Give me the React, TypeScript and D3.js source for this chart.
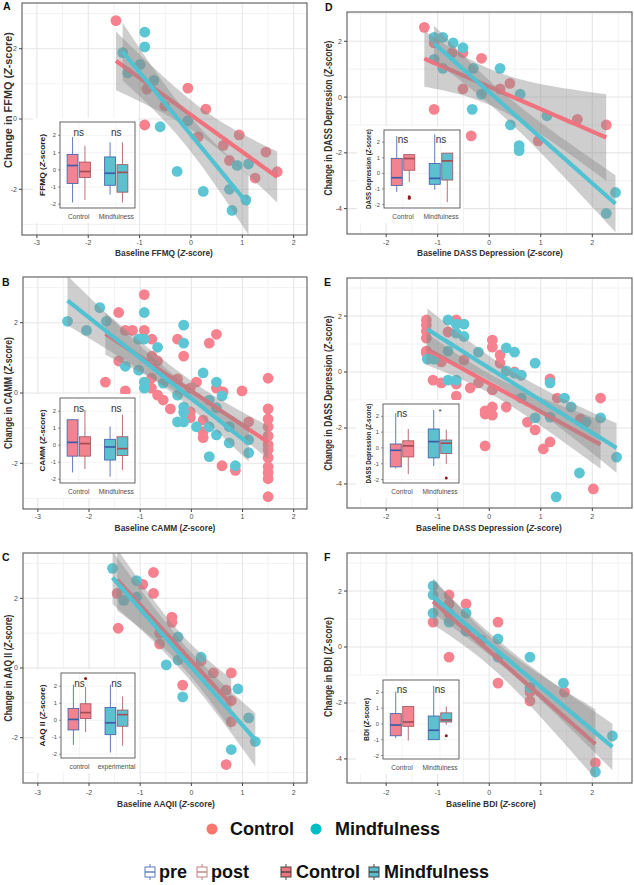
import React, { useEffect, useRef } from "react";
import * as d3 from "d3";

type Pt = [number, number];
type Box = [number, number, number, number, number]; // lo, q1, median, q3, hi

// tick labels
const leftXTicks = [-3, -2, -1, 0, 1, 2];
const rightXTicks = [-2, -1, 0, 1, 2];
const leftYTicks = [-2, 0, 2];
const rightYTicks = [-4, -2, 0, 2];
const insetYTicks = [-2, -1, 0, 1, 2];
const insetGroups = ["Control", "Mindfulness"];
const insetGroupsC = ["control", "experimental"];

// A: FFMQ
const aControl: Pt[] = [[-1.46, 2.8], [-0.9, -0.17], [-0.86, 0.85], [-0.06, 0.88], [0.29, 0.28], [-0.51, 0.37], [0.14, -0.51], [0.63, -0.75], [0.94, -0.45], [0.75, -1.18], [1.25, -1.68], [1.46, -0.94], [1.68, -1.5]];
const aMind: Pt[] = [[-0.9, 2.47], [-0.9, 2.05], [-1.33, 1.89], [-1.23, 1.31], [-0.99, 1.55], [-0.72, 1.1], [-0.6, -0.22], [-0.27, -1.49], [-0.06, -0.05], [0.24, -2.06], [0.75, -2.0], [0.9, -1.32], [1.12, -1.28], [0.8, -2.6], [1.07, -2.3]];
const aBoxes: Box[] = [[-1.9, -0.8, 0.25, 0.9, 1.9], [-1.75, -0.45, -0.1, 0.45, 1.4], [-1.45, -0.9, -0.2, 0.75, 1.6], [-1.9, -1.3, -0.15, 0.3, 1.6]];
const aOutliers: Pt[] = [];
const aSig = ["ns", "ns"];

// B: CAMM
const bControl: Pt[] = [[-1.42, 2.29], [-0.92, 2.8], [-1.29, 1.78], [-1.15, 1.78], [-0.92, 1.78], [-0.77, 1.53], [-0.27, 1.53], [0.35, 1.42], [0.49, 1.67], [-0.15, 1.05], [-1.42, 0.91], [-0.77, 1.05], [-0.66, 0.91], [-1.68, 0.31], [-1.29, 0.06], [-0.78, 0.42], [-0.78, 0.14], [-0.66, -0.06], [-0.55, -0.2], [-0.41, -0.45], [-0.27, 0.4], [0.1, 0.31], [-0.02, 0.14], [-0.02, -0.54], [-0.02, -0.7], [0.23, -0.77], [0.23, -1.1], [0.49, 0.14], [0.62, 0.03], [0.99, 0.06], [1.12, -0.82], [1.5, 0.42], [1.5, -0.45], [1.5, -0.74], [1.5, -0.96], [1.5, -1.22], [1.5, -1.47], [1.5, -1.61], [1.5, -1.84], [1.5, -2.1], [1.5, -2.27], [1.5, -2.44], [1.5, -2.95], [0.6, -2.07], [0.86, -2.2], [0.23, -1.27]];
const bMind: Pt[] = [[-2.42, 2.04], [-2.05, 1.78], [-1.79, 2.43], [-1.66, 2.04], [-1.29, 0.76], [-1.03, 0.65], [-1.03, 1.53], [-0.92, 1.53], [-0.92, 2.29], [-0.66, 1.3], [-0.92, 0.31], [-0.92, 0.14], [-0.55, 0.28], [-0.15, 1.93], [-0.15, 1.42], [-0.27, -0.06], [-0.15, -0.4], [-0.15, -0.55], [0.23, 0.57], [0.49, 0.31], [0.6, -0.08], [0.35, -0.2], [0.49, -0.42], [-0.27, -0.82], [-0.15, -0.82], [0.1, -0.96], [0.35, -0.96], [0.49, -1.19], [0.74, -0.96], [0.74, -1.42], [1.12, -1.33], [0.35, -1.81], [0.86, -2.07], [1.12, -1.7]];
const bBoxes: Box[] = [[-1.6, -0.64, 0.17, 1.5, 1.5], [-1.4, -0.64, 0.1, 0.5, 2.1], [-1.85, -0.87, -0.1, 0.35, 1.1], [-1.45, -0.6, -0.2, 0.5, 1.8]];
const bOutliers: Pt[] = [];
const bSig = ["ns", "ns"];

// C: AAQ II
const cControl: Pt[] = [[-0.74, 2.74], [-0.95, 2.4], [-0.74, 2.14], [-1.45, 2.14], [-1.43, 1.14], [-0.38, 1.46], [-0.38, 1.31], [-0.62, 0.69], [-0.62, 1.0], [0.19, 0.2], [-0.17, -0.49], [0.43, -0.14], [0.68, -0.63], [0.78, -0.14], [0.78, -0.94], [0.78, -1.54], [0.68, -2.77]];
const cMind: Pt[] = [[-1.54, 2.86], [-1.07, 2.51], [-1.32, 1.94], [-1.07, 2.03], [-0.49, 0.09], [-0.26, 0.89], [-0.26, 0.23], [-0.17, -0.83], [0.19, 0.31], [0.91, -0.6], [1.12, -1.43], [1.25, -2.11], [0.78, -2.34]];
const cBoxes: Box[] = [[-1.45, -0.57, 0.05, 0.7, 2.1], [-0.7, 0.1, 0.45, 0.97, 1.95], [-1.9, -0.85, -0.15, 0.75, 2.1], [-1.5, -0.35, 0.33, 0.6, 1.4]];
const cOutliers: Pt[] = [[1, 2.45]];
const cSig = ["ns", "ns"];

// D: DASS Depression
const dControl: Pt[] = [[-1.26, 2.5], [-1.07, 1.94], [-1.07, -0.44], [-0.72, 1.59], [-0.51, 1.59], [-0.51, 0.29], [-0.15, 1.39], [-0.35, -1.39], [0.21, 0.29], [0.4, 0.49], [0.95, -1.57], [1.71, -0.8], [2.27, -1.0]];
const dMind: Pt[] = [[-1.07, 2.14], [-0.9, 2.14], [-1.07, 1.35], [-0.9, 1.03], [-0.7, 1.94], [-0.51, 1.77], [-0.31, 1.03], [-0.15, 0.1], [-0.33, -0.44], [0.21, 1.03], [0.41, -1.0], [0.6, 0.1], [0.58, -1.74], [0.58, -1.92], [1.12, -0.67], [2.27, -4.17], [2.45, -3.42]];
const dBoxes: Box[] = [[-1.2, -0.77, -0.28, 0.95, 2.4], [-0.55, 0.2, 0.95, 1.2, 1.25], [-1.05, -0.7, -0.32, 0.63, 2.5], [-1.85, -0.43, 0.8, 1.3, 1.3]];
const dOutliers: Pt[] = [[1, -1.5], [1, -1.6]];
const dSig = ["ns", "ns"];

// E: DASS Depression
const eControl: Pt[] = [[-1.22, 1.86], [-1.22, 1.68], [-1.22, 1.46], [-1.22, 1.21], [-1.22, 0.75], [-1.22, 0.68], [-1.09, -0.29], [-0.93, -0.39], [-0.93, 0.36], [-0.8, 1.43], [-0.64, 1.86], [-0.64, -0.43], [-0.64, -0.86], [-0.49, 0.43], [-0.37, -0.57], [-0.21, -0.39], [0.06, 1.14], [0.06, 0.89], [0.21, 0.61], [0.21, 0.32], [0.06, -0.64], [0.06, -1.25], [-0.08, -1.39], [0.06, -1.54], [-0.08, -1.5], [0.33, -1.25], [0.49, 0], [0.62, -0.11], [0.74, -1.79], [0.89, -2.07], [1.18, -0.25], [1.32, -0.93], [1.77, -1.68], [2.16, -0.93], [1.18, -2.5], [1.05, -2.75], [-0.08, -2.64], [2.02, -4.18]];
const eMind: Pt[] = [[-1.2, 0.46], [-1.07, 0.46], [-0.8, 1.86], [-0.64, 1.71], [-0.49, 1.71], [-0.49, 1.27], [-0.64, 1.39], [-0.8, -0.29], [-0.64, -0.29], [-0.8, 0.75], [-0.21, 0.71], [0.33, 0.86], [0.49, 0.71], [0.33, 0.04], [0.49, -0.04], [0.62, -0.11], [0.89, 0.32], [1.18, -0.39], [1.46, -0.93], [1.59, -1.25], [0.89, -1.64], [1.18, -1.61], [1.88, -1.79], [2.16, -1.64], [0.62, -0.93], [2.47, -3.04], [1.75, -3.61], [1.3, -4.46]];
const eBoxes: Box[] = [[-1.3, -1.2, -0.15, 0.25, 2.2], [-1.65, -0.57, 0.13, 0.45, 1.2], [-1.15, -0.63, 0.4, 1.2, 2.4], [-1.0, -0.35, 0.3, 0.5, 1.15]];
const eOutliers: Pt[] = [[3, -1.9]];
const eSig = ["ns", "*"];

// F: BDI
const fControl: Pt[] = [[-1.09, 0.89], [-0.78, 1.86], [-0.78, 1.54], [-0.78, -0.36], [-0.45, 1.54], [0.17, 0.89], [0.17, -1.29], [0.79, -1.61], [0.79, -1.93], [1.46, -1.61], [2.06, -4.14], [-0.15, 0.25], [-0.78, 1.2]];
const fMind: Pt[] = [[-1.09, 2.18], [-1.09, 1.86], [-1.09, 1.21], [-0.78, 0.89], [-0.45, 1.21], [-0.45, 0.57], [0.17, 0.29], [0.17, -0.36], [0.79, -0.36], [1.44, -1.29], [2.39, -3.18], [2.06, -4.46], [0.79, -1.45]];
const fBoxes: Box[] = [[-0.9, -0.75, -0.07, 0.65, 2.05], [-1.05, -0.15, 0.12, 1.1, 1.1], [-1.0, -1.0, -0.4, 0.5, 2.4], [-0.05, 0.12, 0.25, 0.7, 1.1]];
const fOutliers: Pt[] = [[3, -0.75]];
const fSig = ["ns", "ns"];

const FONT = "'Liberation Sans', Arial, Helvetica, sans-serif";
const PINK = "#F5828E";
const TEAL = "#5DC6D4";
const PINK_LINE = "#F0727F";
const TEAL_LINE = "#52C2D2";
const BOX_PINK = "#F3848F";
const BOX_TEAL = "#5DC0CF";
const PRE_COL = "#3C5CA8";
const POST_COL = "#A34E56";

const panels = [
  { letter: "A", lx: 3, ly: 10, x0: 22, x1: 307, y0: 3, y1: 235, xDom: [-3.29, 2.26], yDom: [-3.3, 3.3], xTicks: leftXTicks, yTicks: leftYTicks, control: aControl, mind: aMind, yTitle: "Change in FFMQ", ytx: 8, ytc: 100, ytl: 136, xTitle: "Baseline FFMQ", xtc: 164, xty: 253, xtl: 98, tickY: 243,
    inset: { x0: 60, x1: 135, y0: 122, y1: 208, groups: insetGroups, boxes: aBoxes, outliers: aOutliers, sig: aSig, title: "FFMQ", tx: 43, tl: 62 } },
  { letter: "B", lx: 2, ly: 286, x0: 23, x1: 307, y0: 277, y1: 509, xDom: [-3.29, 2.26], yDom: [-3.3, 3.3], xTicks: leftXTicks, yTicks: leftYTicks, control: bControl, mind: bMind, yTitle: "Change in CAMM", ytx: 8, ytc: 393, ytl: 112, xTitle: "Baseline CAMM", xtc: 165, xty: 528, xtl: 101, tickY: 517,
    inset: { x0: 60, x1: 135, y0: 398, y1: 483, groups: insetGroups, boxes: bBoxes, outliers: bOutliers, sig: bSig, title: "CAMM", tx: 43, tl: 62 } },
  { letter: "C", lx: 2, ly: 561, x0: 23, x1: 307, y0: 553, y1: 783, xDom: [-3.29, 2.26], yDom: [-3.3, 3.3], xTicks: leftXTicks, yTicks: leftYTicks, control: cControl, mind: cMind, yTitle: "Change in AAQ II", ytx: 8, ytc: 668, ytl: 107, xTitle: "Baseline AAQII", xtc: 166, xty: 804, xtl: 98, tickY: 793,
    inset: { x0: 61, x1: 135, y0: 673, y1: 758, groups: insetGroupsC, boxes: cBoxes, outliers: cOutliers, sig: cSig, title: "AAQ II", tx: 43, tl: 62 } },
  { letter: "D", lx: 325, ly: 11, x0: 347, x1: 632, y0: 12, y1: 234, xDom: [-2.76, 2.77], yDom: [-4.91, 3.05], xTicks: rightXTicks, yTicks: rightYTicks, control: dControl, mind: dMind, yTitle: "Change in DASS Depression", ytx: 328, ytc: 118, ytl: 155, xTitle: "Baseline DASS Depression", xtc: 490, xty: 253, xtl: 146, tickY: 243,
    inset: { x0: 384, x1: 460, y0: 130, y1: 208, groups: insetGroups, boxes: dBoxes, outliers: dOutliers, sig: dSig, title: "DASS Depression", tx: 369, tl: 80 } },
  { letter: "E", lx: 324, ly: 286, x0: 347, x1: 632, y0: 278, y1: 508, xDom: [-2.76, 2.77], yDom: [-4.86, 3.36], xTicks: rightXTicks, yTicks: rightYTicks, control: eControl, mind: eMind, yTitle: "Change in DASS Depression", ytx: 328, ytc: 393, ytl: 155, xTitle: "Baseline DASS Depression", xtc: 489, xty: 528, xtl: 146, tickY: 517,
    inset: { x0: 383, x1: 459, y0: 404, y1: 483, groups: insetGroups, boxes: eBoxes, outliers: eOutliers, sig: eSig, title: "DASS Depression", tx: 369, tl: 80 } },
  { letter: "F", lx: 324, ly: 561, x0: 347, x1: 632, y0: 553, y1: 783, xDom: [-2.76, 2.77], yDom: [-4.86, 3.36], xTicks: rightXTicks, yTicks: rightYTicks, control: fControl, mind: fMind, yTitle: "Change in BDI", ytx: 328, ytc: 667, ytl: 100, xTitle: "Baseline BDI", xtc: 491, xty: 804, xtl: 90, tickY: 793,
    inset: { x0: 383, x1: 459, y0: 680, y1: 759, groups: insetGroups, boxes: fBoxes, outliers: fOutliers, sig: fSig, title: "BDI", tx: 367, tl: 43 } },
];

// title "<prefix> (Z-score)" with italic Z, squeezed to a target length via a scale transform
function zTitle(parent: any, prefix: string, cx: number, cy: number, rotate: boolean, target: number, size: number, color: string) {
  const t = parent.append("text").attr("text-anchor", "middle").attr("dy", "0.35em")
    .attr("font-size", size).attr("font-weight", "bold").attr("fill", color);
  t.append("tspan").text(prefix + " (");
  t.append("tspan").attr("font-style", "italic").text("Z");
  t.append("tspan").text("-score)");
  const len = (t.node() as SVGTextElement).getComputedTextLength() || target;
  const k = target / len;
  t.attr("transform", `translate(${cx},${cy})${rotate ? " rotate(-90)" : ""} scale(${k},1)`);
}

// OLS fit with confidence band (like geom_smooth(method = "lm"))
function fitLine(pts: Pt[]) {
  const n = pts.length;
  const mx = d3.mean(pts, d => d[0]) as number;
  const my = d3.mean(pts, d => d[1]) as number;
  let sxx = 0, sxy = 0;
  pts.forEach(([a, b]) => { sxx += (a - mx) ** 2; sxy += (a - mx) * (b - my); });
  const slope = sxy / sxx, icpt = my - slope * mx;
  let sse = 0;
  pts.forEach(([u, v]) => { sse += (v - icpt - slope * u) ** 2; });
  const s = Math.sqrt(sse / (n - 2));
  const t = 1.96 + 2.4 / (n - 2);
  const [lo, hi] = d3.extent(pts, d => d[0]) as [number, number];
  return d3.range(0, 41).map(i => {
    const xv = lo + (hi - lo) * i / 40;
    const yh = icpt + slope * xv;
    const se = s * Math.sqrt(1 / n + (xv - mx) ** 2 / sxx);
    return { x: xv, y: yh, lo: yh - t * se, hi: yh + t * se };
  });
}

function drawPanel(svg: any, p: any, idx: number) {
  const x = d3.scaleLinear().domain(p.xDom).range([p.x0, p.x1]);
  const y = d3.scaleLinear().domain(p.yDom).range([p.y1, p.y0]);
  const g = svg.append("g");

  g.append("rect").attr("x", p.x0).attr("y", p.y0).attr("width", p.x1 - p.x0).attr("height", p.y1 - p.y0).attr("fill", "#fff");

  const xMinor = d3.range(Math.floor(p.xDom[0]) - 0.5, p.xDom[1], 1).filter((v: number) => v > p.xDom[0] && v < p.xDom[1]);
  const yMinor = d3.range(Math.floor(p.yDom[0]), p.yDom[1], 1).filter((v: number) => Math.abs(v % 2) === 1 && v > p.yDom[0]);

  g.selectAll(".xmin").data(xMinor).enter().append("line")
    .attr("x1", (d: number) => x(d)).attr("x2", (d: number) => x(d)).attr("y1", p.y0).attr("y2", p.y1)
    .attr("stroke", "#f2f2f2").attr("stroke-width", 1);
  g.selectAll(".ymin").data(yMinor).enter().append("line")
    .attr("y1", (d: number) => y(d)).attr("y2", (d: number) => y(d)).attr("x1", p.x0).attr("x2", p.x1)
    .attr("stroke", "#f2f2f2").attr("stroke-width", 1);
  g.selectAll(".xmaj").data(p.xTicks).enter().append("line")
    .attr("x1", (d: number) => x(d)).attr("x2", (d: number) => x(d)).attr("y1", p.y0).attr("y2", p.y1)
    .attr("stroke", "#e6e6e6").attr("stroke-width", 1.1);
  g.selectAll(".ymaj").data(p.yTicks).enter().append("line")
    .attr("y1", (d: number) => y(d)).attr("y2", (d: number) => y(d)).attr("x1", p.x0).attr("x2", p.x1)
    .attr("stroke", "#e6e6e6").attr("stroke-width", 1.1);

  const clipId = "clip" + idx;
  g.append("clipPath").attr("id", clipId).append("rect")
    .attr("x", p.x0).attr("y", p.y0).attr("width", p.x1 - p.x0).attr("height", p.y1 - p.y0);
  const plot = g.append("g").attr("clip-path", `url(#${clipId})`);

  plot.selectAll(".pc").data(p.control).enter().append("circle")
    .attr("cx", (d: Pt) => x(d[0])).attr("cy", (d: Pt) => y(d[1])).attr("r", 5.4).attr("fill", PINK);
  plot.selectAll(".pm").data(p.mind).enter().append("circle")
    .attr("cx", (d: Pt) => x(d[0])).attr("cy", (d: Pt) => y(d[1])).attr("r", 5.4).attr("fill", TEAL);

  const area = d3.area<any>().x(d => x(d.x)).y0(d => y(d.lo)).y1(d => y(d.hi));
  const line = d3.line<any>().x(d => x(d.x)).y(d => y(d.y));
  [[p.control, PINK_LINE], [p.mind, TEAL_LINE]].forEach(([pts, col]: any) => {
    const fit = fitLine(pts);
    plot.append("path").attr("d", area(fit)).attr("fill", "#8a8a8a").attr("opacity", 0.42);
    plot.append("path").attr("d", line(fit)).attr("fill", "none").attr("stroke", col).attr("stroke-width", 4.2);
  });

  g.append("rect").attr("x", p.x0).attr("y", p.y0).attr("width", p.x1 - p.x0).attr("height", p.y1 - p.y0)
    .attr("fill", "none").attr("stroke", "#5a5a5a").attr("stroke-width", 1.1);

  // axes
  g.selectAll(".xt").data(p.xTicks).enter().append("line")
    .attr("x1", (d: number) => x(d)).attr("x2", (d: number) => x(d)).attr("y1", p.y1).attr("y2", p.y1 + 3)
    .attr("stroke", "#444");
  g.selectAll(".xl").data(p.xTicks).enter().append("text")
    .attr("x", (d: number) => x(d)).attr("y", p.tickY).attr("dy", "0.35em").attr("text-anchor", "middle")
    .attr("font-size", 7).attr("fill", "#4d4d4d").text((d: number) => d);
  g.selectAll(".yt").data(p.yTicks).enter().append("line")
    .attr("y1", (d: number) => y(d)).attr("y2", (d: number) => y(d)).attr("x1", p.x0 - 3).attr("x2", p.x0)
    .attr("stroke", "#444");
  g.selectAll(".yl").data(p.yTicks).enter().append("text")
    .attr("x", p.x0 - 5).attr("y", (d: number) => y(d)).attr("dy", "0.35em").attr("text-anchor", "end")
    .attr("font-size", 7).attr("fill", "#4d4d4d").text((d: number) => d);

  zTitle(g, p.xTitle, p.xtc, p.xty, false, p.xtl, 9.5, "#333");
  zTitle(g, p.yTitle, p.ytx, p.ytc, true, p.ytl, 10, "#333");

  g.append("text").attr("x", p.lx).attr("y", p.ly).attr("font-size", 10.5).attr("font-weight", "bold").attr("fill", "#111").text(p.letter);

  drawInset(g, p.inset);
}

function drawInset(g: any, ins: any) {
  const y = d3.scaleLinear().domain([-2.22, 2.78]).range([ins.y1, ins.y0]);
  const xg = d3.scaleBand().domain(ins.groups).range([ins.x0, ins.x1]);
  const bw = xg.bandwidth();
  const ig = g.append("g");

  ig.append("rect").attr("x", ins.x0 - 27).attr("y", ins.y0 - 4).attr("width", ins.x1 - ins.x0 + 30).attr("height", ins.y1 - ins.y0 + 19).attr("fill", "#fff");
  ig.selectAll(".ig").data(insetYTicks).enter().append("line")
    .attr("x1", ins.x0).attr("x2", ins.x1).attr("y1", (d: number) => y(d)).attr("y2", (d: number) => y(d))
    .attr("stroke", "#ededed").attr("stroke-width", 0.6);
  ig.selectAll(".igx").data(ins.groups).enter().append("line")
    .attr("x1", (d: string) => (xg(d) as number) + bw / 2).attr("x2", (d: string) => (xg(d) as number) + bw / 2)
    .attr("y1", ins.y0).attr("y2", ins.y1).attr("stroke", "#ededed").attr("stroke-width", 0.6);

  const w = bw * 0.29;
  const cxOf = (i: number) => (xg(ins.groups[Math.floor(i / 2)]) as number) + bw / 2 + (i % 2 === 0 ? -1 : 1) * bw * 0.165;
  ins.boxes.forEach((b: Box, i: number) => {
    const cx = cxOf(i);
    const col = i % 2 === 0 ? PRE_COL : POST_COL;
    const fill = i < 2 ? BOX_PINK : BOX_TEAL;
    ig.append("line").attr("x1", cx).attr("x2", cx).attr("y1", y(b[0])).attr("y2", y(b[1])).attr("stroke", col).attr("stroke-width", 0.8);
    ig.append("line").attr("x1", cx).attr("x2", cx).attr("y1", y(b[3])).attr("y2", y(b[4])).attr("stroke", col).attr("stroke-width", 0.8);
    ig.append("rect").attr("x", cx - w / 2).attr("y", y(b[3])).attr("width", w).attr("height", Math.max(0.5, y(b[1]) - y(b[3])))
      .attr("fill", fill).attr("stroke", col).attr("stroke-width", 0.8);
    ig.append("line").attr("x1", cx - w / 2).attr("x2", cx + w / 2).attr("y1", y(b[2])).attr("y2", y(b[2]))
      .attr("stroke", col).attr("stroke-width", 1.7);
  });
  ins.outliers.forEach((o: Pt) => {
    ig.append("circle").attr("cx", cxOf(o[0])).attr("cy", y(o[1])).attr("r", 1.5).attr("fill", "#8b1a1a");
  });

  ig.append("rect").attr("x", ins.x0).attr("y", ins.y0).attr("width", ins.x1 - ins.x0).attr("height", ins.y1 - ins.y0)
    .attr("fill", "none").attr("stroke", "#555").attr("stroke-width", 0.9);

  ig.selectAll(".it").data(insetYTicks).enter().append("line")
    .attr("x1", ins.x0 - 2).attr("x2", ins.x0).attr("y1", (d: number) => y(d)).attr("y2", (d: number) => y(d))
    .attr("stroke", "#555").attr("stroke-width", 0.6);
  ig.selectAll(".il").data(insetYTicks).enter().append("text")
    .attr("x", ins.x0 - 4).attr("y", (d: number) => y(d)).attr("dy", "0.35em").attr("text-anchor", "end")
    .attr("font-size", 5.8).attr("fill", "#4d4d4d").text((d: number) => d);
  ig.selectAll(".ixl").data(ins.groups).enter().append("text")
    .attr("x", (d: string) => (xg(d) as number) + bw / 2).attr("y", ins.y1 + 9).attr("dy", "0.35em").attr("text-anchor", "middle")
    .attr("font-size", 6.6).attr("fill", "#4d4d4d").text((d: string) => d);
  ins.sig.forEach((s: string, i: number) => {
    ig.append("text").attr("x", (xg(ins.groups[i]) as number) + bw / 2).attr("y", y(s === "*" ? 2.15 : 1.95))
      .attr("text-anchor", "middle").attr("font-size", s === "*" ? 8 : 10).attr("fill", "#333").text(s);
  });
  zTitle(ig, ins.title, ins.tx, (ins.y0 + ins.y1) / 2, true, ins.tl, 6.5, "#222");
}

function drawLegends(svg: any) {
  const lg = svg.append("g").attr("font-weight", "bold").attr("font-size", 18).attr("fill", "#111");
  lg.append("circle").attr("cx", 212).attr("cy", 829).attr("r", 5.5).attr("fill", "#F8766D");
  lg.append("text").attr("x", 230).attr("y", 829).attr("dy", "0.35em").text("Control");
  lg.append("circle").attr("cx", 316).attr("cy", 829).attr("r", 5.5).attr("fill", "#00BFC4");
  lg.append("text").attr("x", 335).attr("y", 829).attr("dy", "0.35em").text("Mindfulness");

  const keys = [
    { cx: 150, tx: 159, label: "pre", fill: "#fff", stroke: "#5B7DB8" },
    { cx: 202, tx: 211, label: "post", fill: "#fff", stroke: "#C08080" },
    { cx: 286, tx: 296, label: "Control", fill: "#EE7480", stroke: "#444" },
    { cx: 374, tx: 384, label: "Mindfulness", fill: "#5ABCCB", stroke: "#444" },
  ];
  const cy = 872;
  keys.forEach(k => {
    lg.append("line").attr("x1", k.cx).attr("x2", k.cx).attr("y1", cy - 8).attr("y2", cy + 8).attr("stroke", k.stroke).attr("stroke-width", 1);
    lg.append("rect").attr("x", k.cx - 5).attr("y", cy - 5).attr("width", 10).attr("height", 10).attr("fill", k.fill).attr("stroke", k.stroke).attr("stroke-width", 1);
    lg.append("line").attr("x1", k.cx - 5).attr("x2", k.cx + 5).attr("y1", cy).attr("y2", cy).attr("stroke", k.stroke).attr("stroke-width", 1.4);
    lg.append("text").attr("x", k.tx).attr("y", cy).attr("dy", "0.35em").text(k.label);
  });
}

export default function App() {
  const ref = useRef<SVGSVGElement>(null);
  useEffect(() => {
    const svg = d3.select(ref.current);
    svg.selectAll("*").remove();
    svg.append("rect").attr("width", 634).attr("height", 885).attr("fill", "#fff");
    panels.forEach((p, i) => drawPanel(svg, p, i));
    drawLegends(svg);
  }, []);
  return (
    <svg ref={ref} width={634} height={885} fontFamily={FONT}
      style={{ position: "absolute", left: 0, top: 0, display: "block" }} />
  );
}
